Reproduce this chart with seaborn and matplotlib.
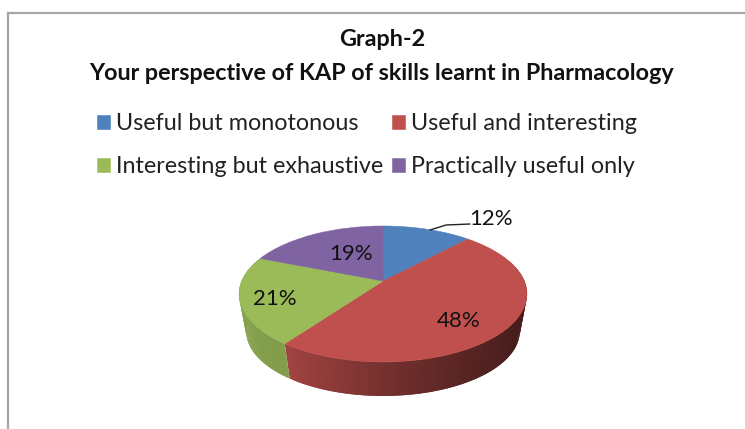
"""Graph-2: 3D-looking pie of KAP perspective answers."""
import numpy as np
import matplotlib
matplotlib.use("Agg")
import matplotlib.pyplot as plt
from matplotlib.transforms import Affine2D, Transform
import seaborn as sns

title_lines = ["Graph-2", "Your perspective of KAP of skills learnt in Pharmacology"]
categories = ["Useful but monotonous", "Useful and interesting",
              "Interesting but exhaustive", "Practically useful only"]
percentages = [12, 48, 21, 19]
palette = ["#4f81bd", "#c0504d", "#9bbb59", "#8064a2"]

W, H = 745, 429
APEX = (383, 281)
WALL_DROP = 34
WALL_SCALE = 0.95


class TiltTransform(Transform):
    """Perspective view of the unit disc, centre ends up at (0, 0) in pixels."""
    input_dims = 2
    output_dims = 2
    has_inverse = False
    is_separable = False

    def transform_non_affine(self, values):
        values = np.asarray(values, dtype=float)
        x, y = values[:, 0], values[:, 1]
        w = 1 + 0.191 * y
        return np.column_stack([141.3 * x / w, -65.5 * y / w])


tilt = TiltTransform()

sns.set_theme(style="white")
plt.rcParams["font.family"] = ["Lato", "DejaVu Sans"]

fig = plt.figure(figsize=(W / 100, H / 100), dpi=100)
ax = fig.add_axes([8 / W, 0, (W - 8) / W, (H - 13) / H])

# pie faces from the values, then bent into the tilted view
wedges, _ = ax.pie(percentages, colors=sns.color_palette(palette), startangle=90,
                   counterclock=False, wedgeprops={"linewidth": 0})
ax.set_aspect("auto")
ax.set_frame_on(True)
ax.set_xlim(8, W)
ax.set_ylim(H, 13)
for w in wedges:
    w.set_transform(tilt + Affine2D().translate(*APEX) + ax.transData)
    w.set_edgecolor(w.get_facecolor())
    w.set_linewidth(0.4)
    w.set_zorder(3)

# side wall, built in thin overlapping strips under the faces
edges = 90 - np.cumsum([0] + percentages) * 3.6
for i, color in enumerate(palette):
    thetas = np.radians(np.linspace(edges[i], edges[i + 1], 120))
    disc = np.column_stack([np.cos(thetas), np.sin(thetas)])
    top = tilt.transform(disc) + APEX
    bottom = tilt.transform(disc) * WALL_SCALE + APEX + [0, WALL_DROP + 81 * (1 - WALL_SCALE)]
    rgb = np.array(matplotlib.colors.to_rgb(color))
    for j in range(len(thetas) - 2):
        if np.sin(thetas[j]) > 0.35:
            continue
        shade = np.interp(top[j, 0], [239, 286, 400, 527], [0.86, 0.84, 0.58, 0.36])
        ax.fill([top[j, 0], top[j + 2, 0], bottom[j + 2, 0], bottom[j, 0]],
                [top[j, 1], top[j + 2, 1], bottom[j + 2, 1], bottom[j, 1]],
                color=rgb * shade, lw=0, zorder=2)

# frame only on top and left
for side, spine in ax.spines.items():
    spine.set_visible(side in ("top", "left"))
    spine.set_color("#a6a6a6")
    spine.set_linewidth(1.6)

ax.text(382, 40, title_lines[0], ha="center", va="center", fontsize=16.8, fontweight="bold", color="#111111")
ax.text(382, 73, title_lines[1], ha="center", va="center", fontsize=16.8, fontweight="bold", color="#111111")

order = [0, 2, 1, 3]
ax.legend([wedges[i] for i in order], [categories[i] for i in order], ncol=2,
          loc="upper left", bbox_to_anchor=(97 / W, 1 - 113 / H), bbox_transform=fig.transFigure,
          frameon=False, fontsize=16.8, handlelength=0.56, handleheight=0.56, handletextpad=0.26,
          labelspacing=0.95, columnspacing=0.35, borderpad=0, borderaxespad=0, labelcolor="#222222")

label_pos = [(491, 219), (459, 321), (275, 299), (351, 254)]
for v, (x, y) in zip(percentages, label_pos):
    ax.text(x, y, f"{v}%", ha="center", va="center", fontsize=16, color="#111111", zorder=5)
ax.plot([430, 446, 470], [230, 225, 224], color="#222222", lw=1, zorder=5)

fig.savefig("out.png", dpi=100, facecolor="white")
